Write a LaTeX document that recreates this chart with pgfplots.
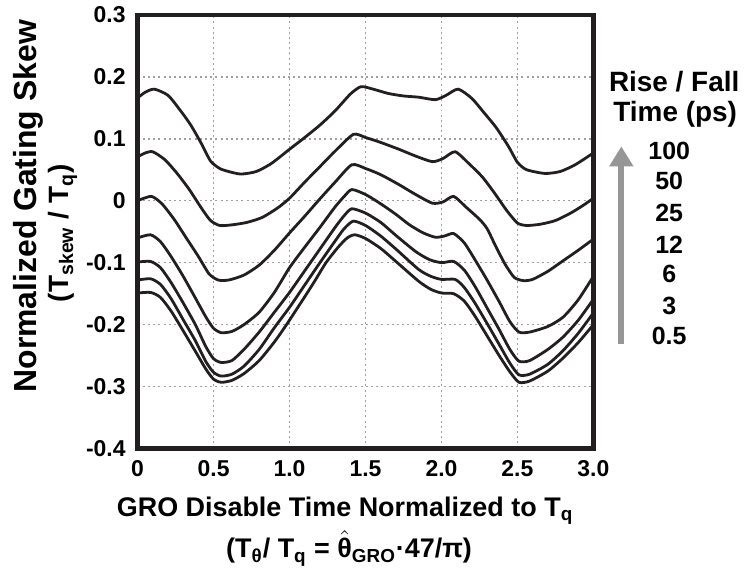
\documentclass[border=0pt]{standalone}
\usepackage{amsmath}
\usepackage{fontspec}
\setmainfont{Liberation Sans}
\usepackage{pgfplots}
\pgfplotsset{compat=1.18}
\usetikzlibrary{arrows.meta}

\definecolor{curve}{RGB}{35,31,32}
\definecolor{arrowgray}{RGB}{150,150,150}
\definecolor{gridgray}{RGB}{160,160,160}

\pgfplotsset{skew/.style={curve, solid, line width=1.4pt, smooth, tension=0.4, mark=none}}

\begin{document}
\begin{tikzpicture}
  \begin{axis}[
      at={(0,0)}, anchor=south west,
      scale only axis,
      width=228.5pt, height=217.5pt,
      xmin=0, xmax=3, ymin=-0.4, ymax=0.3,
      xtick={0,0.5,1,1.5,2,2.5,3},
      xticklabels={\textbf{0},\textbf{0.5},\textbf{1.0},\textbf{1.5},\textbf{2.0},\textbf{2.5},\textbf{3.0}},
      ytick={-0.4,-0.3,-0.2,-0.1,0,0.1,0.2,0.3},
      yticklabels={\textbf{-0.4},\textbf{-0.3},\textbf{-0.2},\textbf{-0.1},\textbf{0},\textbf{0.1},\textbf{0.2},\textbf{0.3}},
      /pgf/number format/assume math mode=true,
      every tick label/.append style={font=\fontsize{11.5}{13}\selectfont\bfseries},
      xticklabel style={yshift=-2.5pt},
      yticklabel style={xshift=-2.5pt},
      major tick length=0pt,
      grid=major,
      grid style={gridgray, line width=0.8pt, dash pattern=on 1pt off 1.6pt},
      axis line style={draw=none},
      clip=false,
    ]
    % 100 ps
    \addplot[skew] coordinates {
      (0,0.166) (0.05,0.175) (0.11,0.180) (0.2,0.170) (0.28,0.146) (0.35,0.122)
      (0.42,0.092) (0.48,0.064) (0.54,0.052) (0.6,0.047) (0.68,0.043) (0.78,0.047)
      (0.88,0.060) (1.0,0.083) (1.1,0.102) (1.2,0.122) (1.3,0.145) (1.4,0.172)
      (1.47,0.184) (1.55,0.180) (1.65,0.173) (1.75,0.169) (1.85,0.167) (1.96,0.163)
      (2.03,0.170) (2.11,0.180) (2.2,0.165) (2.28,0.142) (2.36,0.118) (2.44,0.088)
      (2.5,0.062) (2.56,0.050) (2.68,0.044) (2.78,0.047) (2.88,0.058) (3.0,0.077)
    };
    % 50 ps
    \addplot[skew] coordinates {
      (0,0.071) (0.05,0.077) (0.10,0.079) (0.18,0.066) (0.26,0.044) (0.34,0.018)
      (0.42,-0.012) (0.48,-0.032) (0.54,-0.040) (0.62,-0.039) (0.72,-0.035)
      (0.82,-0.027) (0.92,-0.012) (1.0,0.004) (1.1,0.030) (1.2,0.055) (1.3,0.080)
      (1.42,0.107) (1.5,0.102) (1.6,0.094) (1.72,0.083) (1.83,0.072) (1.94,0.063)
      (2.01,0.068) (2.09,0.079) (2.18,0.060) (2.27,0.038) (2.35,0.012) (2.43,-0.016)
      (2.5,-0.036) (2.56,-0.040) (2.65,-0.038) (2.75,-0.032) (2.85,-0.020)
      (2.93,-0.008) (3.0,0.004)
    };
    % 25 ps
    \addplot[skew] coordinates {
      (0,0.000) (0.09,0.007) (0.16,-0.005) (0.24,-0.030) (0.32,-0.060) (0.4,-0.090)
      (0.47,-0.118) (0.53,-0.128) (0.6,-0.128) (0.7,-0.120) (0.8,-0.104) (0.9,-0.080)
      (1.0,-0.052) (1.1,-0.025) (1.2,0.003) (1.3,0.030) (1.41,0.058) (1.5,0.052)
      (1.6,0.042) (1.72,0.026) (1.83,0.010) (1.94,-0.004) (2.01,-0.002) (2.08,0.007)
      (2.16,-0.010) (2.25,-0.030) (2.3,-0.045) (2.36,-0.075) (2.42,-0.103)
      (2.48,-0.124) (2.54,-0.129) (2.6,-0.127) (2.7,-0.114) (2.8,-0.097)
      (2.9,-0.080) (3.0,-0.062)
    };
    % 12 ps
    \addplot[skew] coordinates {
      (0,-0.060) (0.085,-0.055) (0.15,-0.066) (0.22,-0.090) (0.3,-0.122)
      (0.38,-0.157) (0.45,-0.188) (0.5,-0.206) (0.55,-0.213) (0.62,-0.211)
      (0.7,-0.200) (0.8,-0.180) (0.9,-0.148) (1.0,-0.108) (1.1,-0.075)
      (1.2,-0.043) (1.3,-0.010) (1.36,0.007) (1.41,0.018) (1.5,0.010) (1.6,-0.005)
      (1.7,-0.022) (1.79,-0.039) (1.88,-0.052) (1.96,-0.059) (2.02,-0.057)
      (2.08,-0.053) (2.15,-0.068) (2.22,-0.095) (2.3,-0.128) (2.38,-0.163)
      (2.45,-0.195) (2.51,-0.212) (2.58,-0.212) (2.7,-0.203) (2.8,-0.188)
      (2.9,-0.160) (3.0,-0.122)
    };
    % 6 ps
    \addplot[skew] coordinates {
      (0,-0.099) (0.085,-0.098) (0.15,-0.108) (0.22,-0.132) (0.3,-0.165)
      (0.38,-0.200) (0.45,-0.236) (0.5,-0.255) (0.55,-0.261) (0.62,-0.258)
      (0.7,-0.240) (0.8,-0.212) (0.9,-0.180) (1.0,-0.148) (1.1,-0.113)
      (1.2,-0.078) (1.3,-0.043) (1.36,-0.024) (1.41,-0.013) (1.5,-0.020)
      (1.6,-0.035) (1.7,-0.056) (1.83,-0.082) (1.92,-0.095) (2.0,-0.100)
      (2.08,-0.098) (2.15,-0.112) (2.22,-0.138) (2.3,-0.173) (2.38,-0.208)
      (2.45,-0.240) (2.51,-0.259) (2.58,-0.258) (2.7,-0.240) (2.8,-0.220)
      (2.9,-0.193) (3.0,-0.159)
    };
    % 3 ps
    \addplot[skew] coordinates {
      (0,-0.128) (0.085,-0.126) (0.15,-0.135) (0.22,-0.158) (0.3,-0.192)
      (0.38,-0.226) (0.45,-0.260) (0.5,-0.277) (0.55,-0.283) (0.62,-0.280)
      (0.7,-0.267) (0.8,-0.240) (0.9,-0.205) (1.0,-0.172) (1.1,-0.136)
      (1.2,-0.100) (1.3,-0.065) (1.36,-0.045) (1.42,-0.033) (1.5,-0.040)
      (1.6,-0.057) (1.7,-0.078) (1.85,-0.111) (1.93,-0.122) (2.0,-0.127)
      (2.09,-0.127) (2.15,-0.140) (2.22,-0.165) (2.3,-0.198) (2.38,-0.232)
      (2.45,-0.262) (2.51,-0.281) (2.58,-0.280) (2.7,-0.264) (2.8,-0.242)
      (2.9,-0.214) (3.0,-0.181)
    };
    % 0.5 ps
    \addplot[skew] coordinates {
      (0,-0.149) (0.085,-0.148) (0.15,-0.156) (0.22,-0.178) (0.3,-0.210)
      (0.38,-0.243) (0.45,-0.272) (0.5,-0.288) (0.55,-0.293) (0.62,-0.290)
      (0.7,-0.279) (0.8,-0.258) (0.9,-0.228) (0.98,-0.200) (1.1,-0.155)
      (1.17,-0.128) (1.24,-0.100) (1.32,-0.075) (1.38,-0.060) (1.43,-0.055)
      (1.5,-0.061) (1.6,-0.077) (1.7,-0.098) (1.85,-0.130) (1.93,-0.143)
      (2.0,-0.149) (2.08,-0.150) (2.15,-0.162) (2.22,-0.186) (2.3,-0.218)
      (2.38,-0.250) (2.45,-0.276) (2.51,-0.293) (2.58,-0.291) (2.7,-0.275)
      (2.8,-0.254) (2.9,-0.229) (3.0,-0.200)
    };
    % heavy frame
    \draw[curve, line width=2.2pt] (rel axis cs:0,0) rectangle (rel axis cs:1,1);
  \end{axis}

  % fixed page frame
  \path (-69pt,-60.5pt) rectangle (304pt,224pt);

  % axis titles
  \node[rotate=90, font=\fontsize{16}{18}\selectfont\bfseries] at (-55pt,121.5pt)
    {Normalized Gating Skew};
  \node[rotate=90, font=\fontsize{14}{16}\selectfont\bfseries] at (-37.5pt,108pt)
    {(T\textsubscript{skew} / T\textsubscript{q})};
  \node[font=\fontsize{13.5}{15}\selectfont\bfseries] at (104pt,-31pt)
    {GRO Disable Time Normalized to T\textsubscript{q}};
  \node[font=\fontsize{13.5}{15}\selectfont\bfseries] at (106pt,-50pt)
    {(T\textsubscript{θ}/ T\textsubscript{q} = $\hat{\text{θ}}$\textsubscript{GRO}·47/π)};

  % rise / fall annotation
  \node[font=\fontsize{14}{16}\selectfont\bfseries] at (269pt,184pt) {Rise / Fall};
  \node[font=\fontsize{14}{16}\selectfont\bfseries] at (269.5pt,167.5pt) {Time (ps)};
  \draw[arrowgray, line width=3pt, -{Triangle[width=11.5pt,length=10pt]}]
    (242.5pt,52.5pt) -- (242.5pt,151.5pt);
  \foreach \lab/\yy in {100/149, 50/134, 25/118.2, 12/102.4, 6/87.4, 3/71.5, 0.5/56.5}
    \node[font=\fontsize{12.5}{14}\selectfont\bfseries] at (266.5pt,\yy pt) {\lab};
\end{tikzpicture}
\end{document}
